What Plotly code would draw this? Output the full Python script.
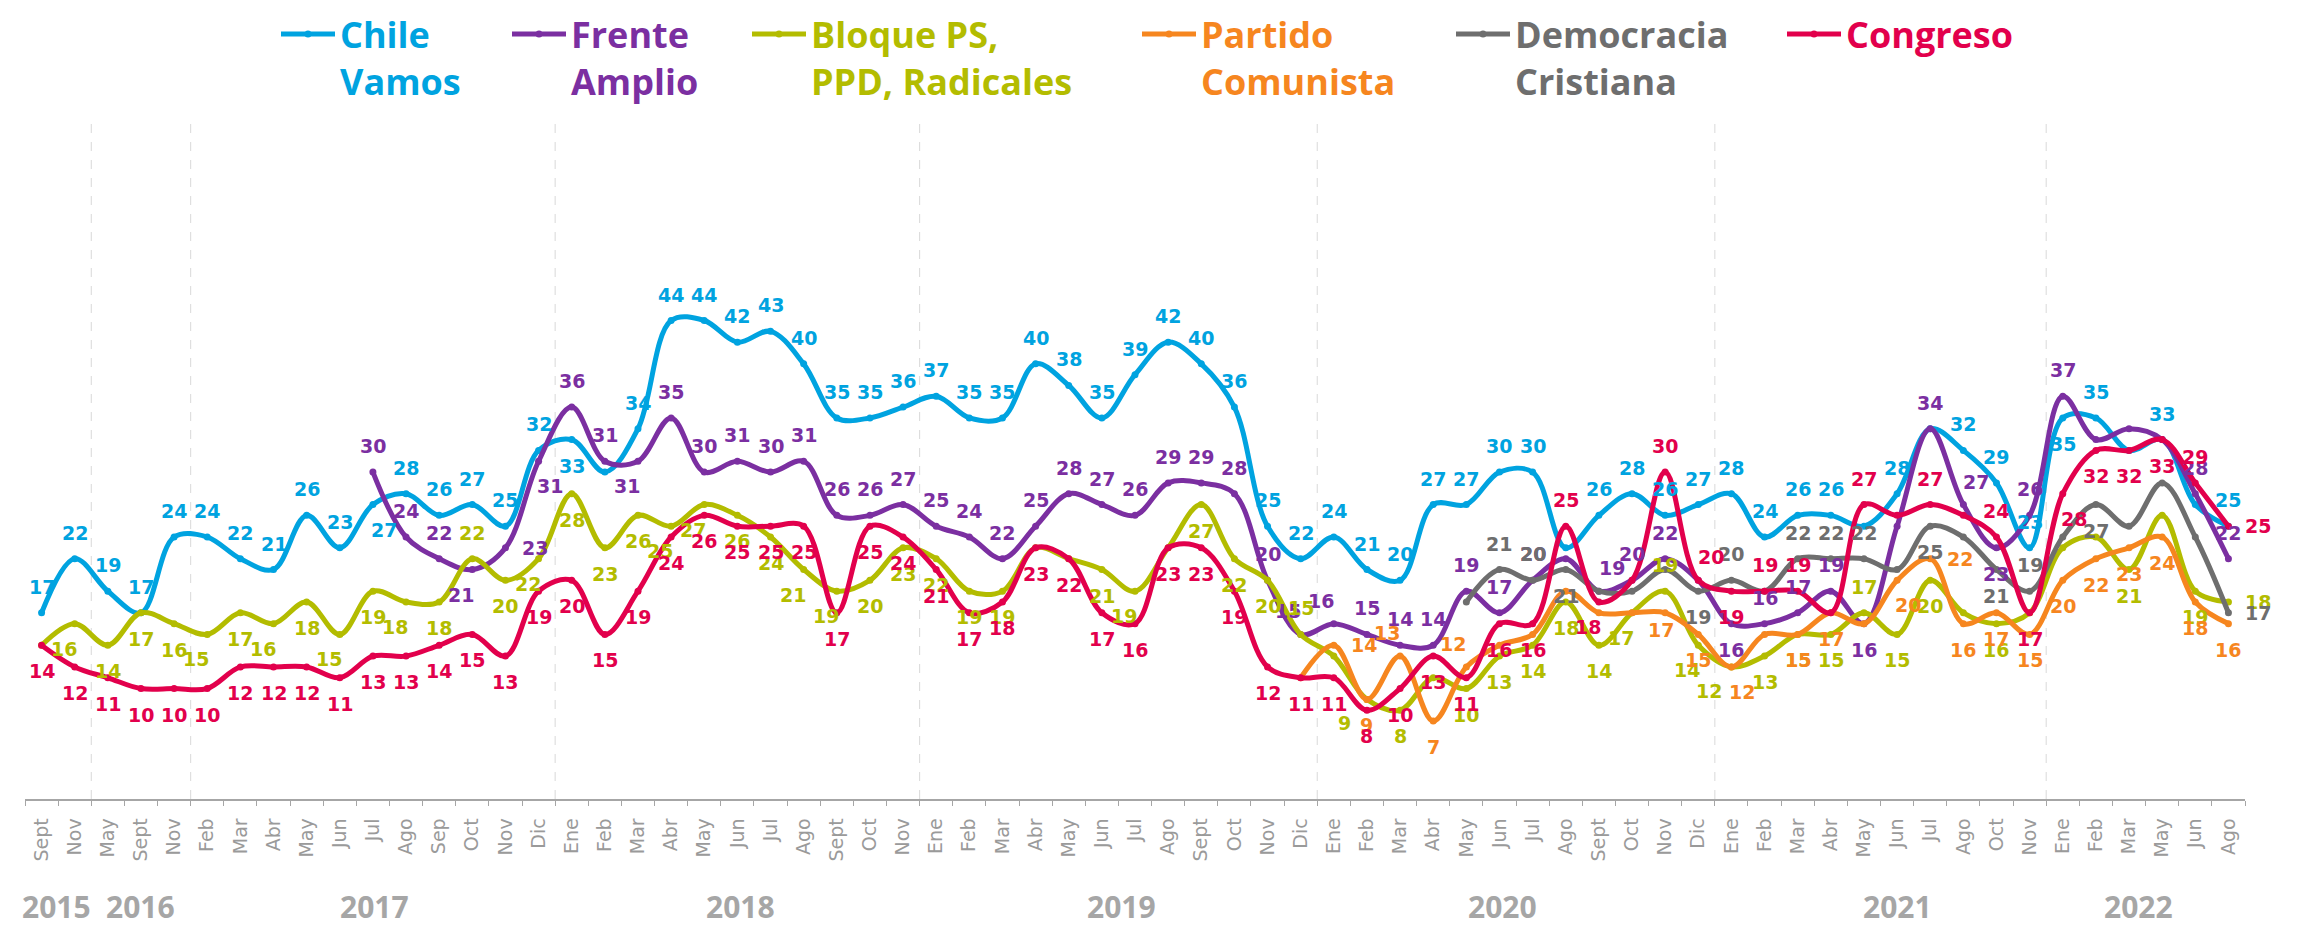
import plotly.graph_objects as go

# ---------------- data ----------------
months = ["Sept", "Nov", "May", "Sept", "Nov", "Feb", "Mar", "Abr", "May", "Jun", "Jul", "Ago", "Sep", "Oct", "Nov", "Dic",
          "Ene", "Feb", "Mar", "Abr", "May", "Jun", "Jul", "Ago", "Sept", "Oct", "Nov",
          "Ene", "Feb", "Mar", "Abr", "May", "Jun", "Jul", "Ago", "Sept", "Oct", "Nov", "Dic",
          "Ene", "Feb", "Mar", "Abr", "May", "Jun", "Jul", "Ago", "Sept", "Oct", "Nov", "Dic",
          "Ene", "Feb", "Mar", "Abr", "May", "Jun", "Jul", "Ago", "Oct", "Nov",
          "Ene", "Feb", "Mar", "May", "Jun", "Ago"]

years = ["2015", "2016", "2017", "2018", "2019", "2020", "2021", "2022"]

chile_vamos = [17, 22, 19, 17, 24, 24, 22, 21, 26, 23, 27, 28, 26, 27, 25, 32,
               33, 30, 34, 44, 44, 42, 43, 40, 35, 35, 36,
               37, 35, 35, 40, 38, 35, 39, 42, 40, 36, 25, 22,
               24, 21, 20, 27, 27, 30, 30, 23, 26, 28, 26, 27,
               28, 24, 26, 26, 25, 28, 34, 32, 29, 23,
               35, 35, 32, 33, 27, 25]

frente_amplio = [None] * 10 + [30, 24, 22, 21, 23, 31,
                               36, 31, 31, 35, 30, 31, 30, 31, 26, 26, 27,
                               25, 24, 22, 25, 28, 27, 26, 29, 29, 28, 20, 15,
                               16, 15, 14, 14, 19, 17, 20, 22, 19, 20, 22, 20,
                               16, 16, 17, 19, 16, 25, 34, 27, 23, 26,
                               37, 33, 34, 33, 28, 22]

bloque_ps_ppd_rad = [14, 16, 14, 17, 16, 15, 17, 16, 18, 15, 19, 18, 18, 22, 20, 22,
                     28, 23, 26, 25, 27, 26, 24, 21, 19, 20, 23,
                     22, 19, 19, 23, 22, 21, 19, 23, 27, 22, 20, 15,
                     13, 9, 8, 11, 10, 13, 14, 18, 14, 17, 19, 14,
                     12, 13, 15, 15, 17, 15, 20, 17, 16, 17,
                     23, 24, 21, 26, 19, 18]

partido_comunista = [None] * 38 + [11,
                                   14, 9, 13, 7, 12, 14, 15, 19, 17, 17, 17, 15,
                                   12, 15, 15, 17, 16, 20, 22, 16, 17, 15,
                                   20, 22, 23, 24, 18, 16]

democracia_cristiana = [None] * 43 + [18, 21, 20, 21, 19, 19, 21, 19,
                                      20, 19, 22, 22, 22, 21, 25, 24, 21, 19,
                                      24, 27, 25, 29, 24, 17]

congreso = [14, 12, 11, 10, 10, 10, 12, 12, 12, 11, 13, 13, 14, 15, 13, 19,
            20, 15, 19, 24, 26, 25, 25, 25, 17, 25, 24,
            21, 17, 18, 23, 22, 17, 16, 23, 23, 19, 12, 11,
            11, 8, 10, 13, 11, 16, 16, 25, 18, 20, 30, 20,
            19, 19, 19, 17, 27, 26, 27, 26, 24, 17,
            28, 32, 32, 33, 29, 25]

# ---------------- styles / label placement ----------------
x_idx = list(range(len(months)))

series = [
    ("Chile<br>Vamos", chile_vamos, "#00A3E0", "t",
     {10: "br", 16: "b", 17: "n", 46: "n", 55: "n", 57: "n", 61: "b", 63: "n", 65: "n"}),
    ("Frente<br>Amplio", frente_amplio, "#7B2FA1", "t",
     {13: "bl", 14: "r", 15: "br", 18: "bl", 38: "tl", 39: "tl", 46: "n", 47: "tr", 50: "n",
      51: "b", 55: "b", 56: "n", 58: "tr", 59: "b", 62: "n", 63: "n", 64: "n"}),
    ("Bloque PS,<br>PPD, Radicales", bloque_ps_ppd_rad, "#B3BC00", "b",
     {0: "n", 1: "bl", 5: "bl", 7: "bl", 9: "bl", 11: "bl", 13: "t", 15: "bl", 19: "bl", 20: "bl",
      23: "bl", 24: "bl", 30: "n", 31: "n", 33: "bl", 34: "n", 38: "t", 39: "n", 40: "bL", 42: "n",
      48: "bl", 49: "t", 50: "bl", 51: "bL", 55: "t", 58: "n", 60: "n", 61: "n", 62: "n", 64: "n", 66: "r"}),
    ("Partido<br>Comunista", partido_comunista, "#F6861F", "b",
     {38: "n", 39: "r", 41: "tl", 43: "tl", 44: "n", 45: "n", 46: "n", 47: "n", 48: "n",
      49: "bs", 51: "br", 52: "n", 55: "n", 56: "br", 57: "r"}),
    ("Democracia<br>Cristiana", democracia_cristiana, "#6E6E6E", "t",
     {43: "n", 46: "b", 47: "n", 48: "n", 49: "n", 50: "b", 52: "n", 56: "n", 57: "b", 58: "n",
      59: "b", 61: "n", 62: "b", 63: "n", 64: "n", 65: "n", 66: "r"}),
    ("Congreso", congreso, "#E2004C", "b",
     {46: "t", 47: "bl", 48: "n", 49: "t", 50: "tr", 52: "t", 53: "t", 54: "n", 55: "t", 56: "n",
      57: "t", 58: "n", 59: "t", 61: "br", 65: "t", 66: "r"}),
]

shift = {"t": (0, 26), "b": (0, -26), "bs": (-4, -17), "tl": (-13, 23), "tr": (13, 23),
         "bl": (-11, -25), "br": (11, -25), "bL": (-22, -24), "l": (-30, 0), "r": (30, 0)}

# the page body adds an 8px offset, so the figure is drawn 8px smaller
W, H = 2290, 922
M_L, M_R, M_T, M_B = 17, 53, 109, 131
plot_w = W - M_L - M_R
plot_h = H - M_T - M_B
legend_px = [268, 499, 739, 1129, 1443, 1774]   # left edge of each legend box (figure px)
legend_top = -4                                  # figure px

fig = go.Figure()
annotations = []
for k, (name, vals, color, default_pos, overrides) in enumerate(series):
    leg = "legend" if k == 0 else f"legend{k + 1}"
    fig.add_trace(go.Scatter(
        x=x_idx, y=vals, name=name, mode="lines+markers",
        line=dict(color=color, width=5, shape="spline", smoothing=1),
        marker=dict(size=7, color=color),
        connectgaps=False, legend=leg, hoverinfo="skip"))
    for i, v in enumerate(vals):
        if v is None:
            continue
        pos = overrides.get(i, default_pos)
        if pos == "n":
            continue
        dx, dy = shift[pos]
        annotations.append(dict(
            x=i, y=v, xref="x", yref="y", text=str(v), showarrow=False,
            xshift=dx, yshift=dy,
            font=dict(family="DejaVu Sans", size=19, color=color, weight="bold")))

# year labels under the month axis
year_pos = [0.44, 3.0, 10.05, 21.1, 32.6, 44.1, 56.0, 63.3]
for yr, xp in zip(years, year_pos):
    annotations.append(dict(
        x=xp, y=-0.158, xref="x", yref="paper", text=yr, showarrow=False,
        yanchor="middle", borderpad=0,
        font=dict(family="Open Sans", size=30, color="#A6A6A6", weight="bold")))

# dashed separators between years
shapes = []
for b in [1.5, 4.5, 15.5, 26.5, 38.5, 50.5, 60.5]:
    shapes.append(dict(type="line", xref="x", yref="paper", x0=b, x1=b, y0=0, y1=1,
                       line=dict(color="#D9D9D9", width=1, dash="dash"), layer="below"))

layout_legends = {}
for k, (name, vals, color, _, _) in enumerate(series):
    key = "legend" if k == 0 else f"legend{k + 1}"
    layout_legends[key] = dict(
        x=(legend_px[k] - M_L) / plot_w, xanchor="left",
        y=1 + (M_T - legend_top) / plot_h, yanchor="top",
        orientation="h", valign="top", itemwidth=54,
        bgcolor="rgba(0,0,0,0)",
        font=dict(family="Open Sans", size=36, color=color, weight="bold"))

fig.update_layout(
    width=W, height=H, autosize=False,
    margin=dict(l=M_L, r=M_R, t=M_T, b=M_B, autoexpand=False),
    paper_bgcolor="white", plot_bgcolor="white",
    showlegend=True,
    annotations=annotations, shapes=shapes,
    xaxis=dict(range=[-0.5, 66.5], tickmode="array", tickvals=x_idx, ticktext=months,
               tickangle=-90, ticks="outside", ticklen=5, tickcolor="rgba(0,0,0,0)",
               ticklabelstandoff=5, automargin=False,
               tickfont=dict(family="DejaVu Sans", size=19, color="#9A9A9A"),
               minor=dict(ticks="outside", tickmode="linear", tick0=-0.5, dtick=1,
                          ticklen=5, tickwidth=1, tickcolor="#A6A6A6"),
               showline=True, linecolor="#A6A6A6", linewidth=1.5,
               showgrid=False, zeroline=False, fixedrange=True),
    yaxis=dict(range=[-0.2, 62.8], visible=False, showgrid=False, zeroline=False,
               fixedrange=True, automargin=False),
    **layout_legends,
)

fig.write_html("out.html")
